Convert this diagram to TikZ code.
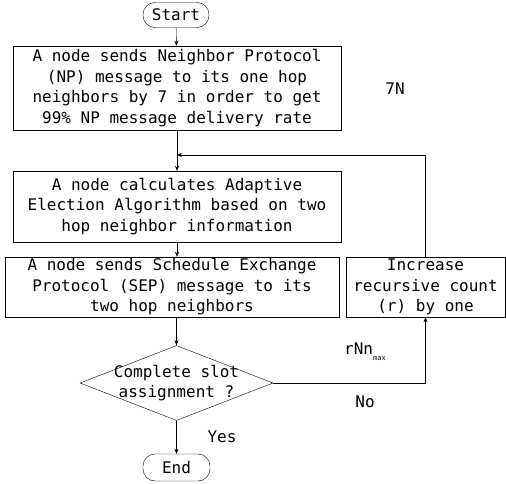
\documentclass[tikz,border=0pt]{standalone}
\usepackage{fontspec}
\setmonofont{DejaVu Sans Mono}
\usetikzlibrary{shapes.geometric,arrows.meta}

\begin{document}
\begin{tikzpicture}[x=1pt,y=1pt,
    txt/.style={font=\ttfamily\fontsize{16}{20.5}\selectfont, align=center},
    proc/.style={txt, draw, rectangle, inner sep=0pt},
    term/.style={txt, draw, rectangle, rounded corners=12pt, inner sep=0pt},
    decision/.style={draw, diamond, inner sep=0pt, minimum width=193pt, minimum height=75pt},
    flow/.style={-{Stealth[length=5pt,width=4pt]}}]
    \useasboundingbox (0,0) rectangle (506,483);

    \node [term, minimum width=66pt, minimum height=25pt] (start) at (176,468) {Start};
    \node [proc, minimum width=328pt, minimum height=84pt] (np) at (177,395)
      {A node sends Neighbor Protocol\\(NP) message to its one hop\\neighbors by 7 in order to get\\99\% NP message delivery rate};
    \node [proc, minimum width=328pt, minimum height=71pt] (aea) at (177,276.5)
      {A node calculates Adaptive\\Election Algorithm based on two\\hop neighbor information};
    \node [proc, minimum width=334pt, minimum height=60pt] (sep) at (172,196)
      {A node sends Schedule Exchange\\Protocol (SEP) message to its\\two hop neighbors};
    \node [proc, minimum width=159pt, minimum height=60pt] (inc) at (425.5,196)
      {Increase\\recursive count\\(r) by one};
    \node [decision, label={[txt]center:Complete slot\\assignment ?}] (dec) at (176.5,100) {};
    \node [term, minimum width=67pt, minimum height=27pt] (end) at (176.5,15.5) {End};
    \coordinate (loop) at (177,328);

    \node [txt] (sevenN) at (395,394) {7N};
    \node [txt] (rnn) at (365,131) {rNn\raisebox{-6pt}{\fontsize{7}{7}\selectfont max}};
    \node [txt] (no) at (365,81) {No};
    \node [txt] (yes) at (222,46) {Yes};

    \draw [flow] (start) -- (np);
    \draw [flow] (np) -- (aea);
    \draw [flow] (aea.south) -- (aea.south |- sep.north);
    \draw [flow] (dec.north |- sep.south) -- (dec.north);
    \draw [flow] (dec) -- (end);
    \draw [flow] (dec.east) -| (inc.south);
    \draw [flow] (inc.north) |- (loop);
  \end{tikzpicture}
\end{document}
